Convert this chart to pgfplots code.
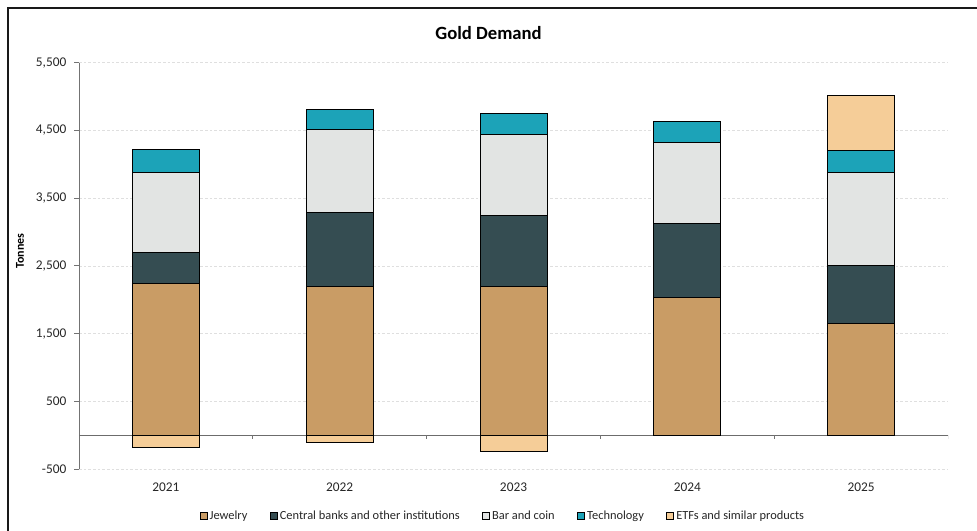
\documentclass[border=0pt]{standalone}
\usepackage{fontspec}
\setmainfont{Carlito}
\usepackage{pgfplots}
\usepackage{pgfplotstable}
\pgfplotsset{compat=1.18}
\definecolor{cJew}{HTML}{C99C65}
\definecolor{cCB}{HTML}{354D52}
\definecolor{cBar}{HTML}{E2E4E3}
\definecolor{cTech}{HTML}{1CA3B8}
\definecolor{cETF}{HTML}{F5CD98}
\definecolor{cTxt}{HTML}{262626}
\newcommand\fs{\fontsize{9pt}{11pt}\selectfont}
\newcommand\ft{\fontsize{10pt}{12pt}\selectfont}
\newcommand\fl{\fontsize{9.3pt}{11pt}\selectfont}

\pgfplotstableread{
x J CB Bar Tech ETFpos ETFneg
0 2236 462 1178 339 0 -186
1 2201 1088 1221 305 0 -108
2 2195 1055 1185 310 0 -245
3 2030 1100 1187 320 0 -8
4 1645 866 1374 325 803 0
}\gold

\begin{document}
\begin{tikzpicture}
\useasboundingbox (0pt,0pt) rectangle (732.75pt,398.25pt);
\draw[line width=1.3pt, color=black!90] (6.2pt,-20pt) rectangle (760pt,392.3pt);
\node[font=\bfseries\fontsize{14pt}{17pt}\selectfont, text=black] at (366.4pt,373.5pt) {Gold Demand};
\node[rotate=90, font=\bfseries\fs, text=black] at (15pt,210pt) {Tonnes};

\begin{axis}[
  at={(59.25pt,46.5pt)}, anchor=south west,
  scale only axis, width=651.75pt, height=304.7pt,
  ymin=-500, ymax=5500, xmin=-0.5, xmax=4.5,
  ybar stacked, bar width=0.385,
  xtick={0,1,2,3,4}, xticklabels={2021,2022,2023,2024,2025},
  ytick={-500,500,1500,2500,3500,4500,5500},
  /pgf/number format/.cd, 1000 sep={,}, assume math mode=true, /pgfplots/.cd,
  axis y line*=left, axis x line*=bottom,
  x axis line style={draw=none},
  y axis line style={draw=gray!90!black, line width=0.6pt},
  xtick style={draw=none},
  ytick style={draw=gray!90!black, line width=0.6pt},
  tick align=outside, major tick length=3.5pt,
  ticklabel style={font=\ft, text=cTxt},
  yticklabel style={xshift=-2.5pt},
  xticklabel style={yshift=-3.5pt},
  ymajorgrids,
  major grid style={dash pattern=on 2pt off 1.5pt, color=gray!25, line width=0.5pt},
  extra y ticks={0}, extra y tick labels={},
  extra y tick style={major tick length=0pt, grid=major, major grid style={solid, draw=gray!85!black, line width=0.7pt}},
  every axis plot/.append style={draw=black, line width=0.6pt},
  legend columns=5,
  legend style={at={(0.488,-0.1157)}, anchor=center, draw=none, fill=none, font=\fl, text=cTxt,
    /tikz/every even column/.append style={column sep=15pt},
    nodes={inner sep=1.8pt}},
  legend image code/.code={\draw[#1, draw=black, line width=0.5pt] (0pt,-2.6pt) rectangle (5.2pt,2.6pt);},
]
\addplot[fill=cJew] table[x=x,y=J]{\gold};
\addlegendentry{Jewelry}
\addplot[fill=cCB] table[x=x,y=CB]{\gold};
\addlegendentry{Central banks and other institutions}
\addplot[fill=cBar] table[x=x,y=Bar]{\gold};
\addlegendentry{Bar and coin}
\addplot[fill=cTech] table[x=x,y=Tech]{\gold};
\addlegendentry{Technology}
\addplot[fill=cETF] table[x=x,y=ETFpos]{\gold};
\addlegendentry{ETFs and similar products}
\pgfplotsinvokeforeach{0.5,1.5,2.5,3.5,4.5}{\draw[gray!90!black, line width=0.6pt] (axis cs:#1,0) -- ++(0pt,-3pt);}
\end{axis}

\begin{axis}[
  at={(59.25pt,46.5pt)}, anchor=south west,
  scale only axis, width=651.75pt, height=304.7pt,
  ymin=-500, ymax=5500, xmin=-0.5, xmax=4.5,
  hide axis, ybar, bar width=0.385,
]
\addplot[fill=cETF, draw=black, line width=0.6pt, bar shift=0pt] table[x=x,y=ETFneg]{\gold};
\end{axis}
\end{tikzpicture}
\end{document}
